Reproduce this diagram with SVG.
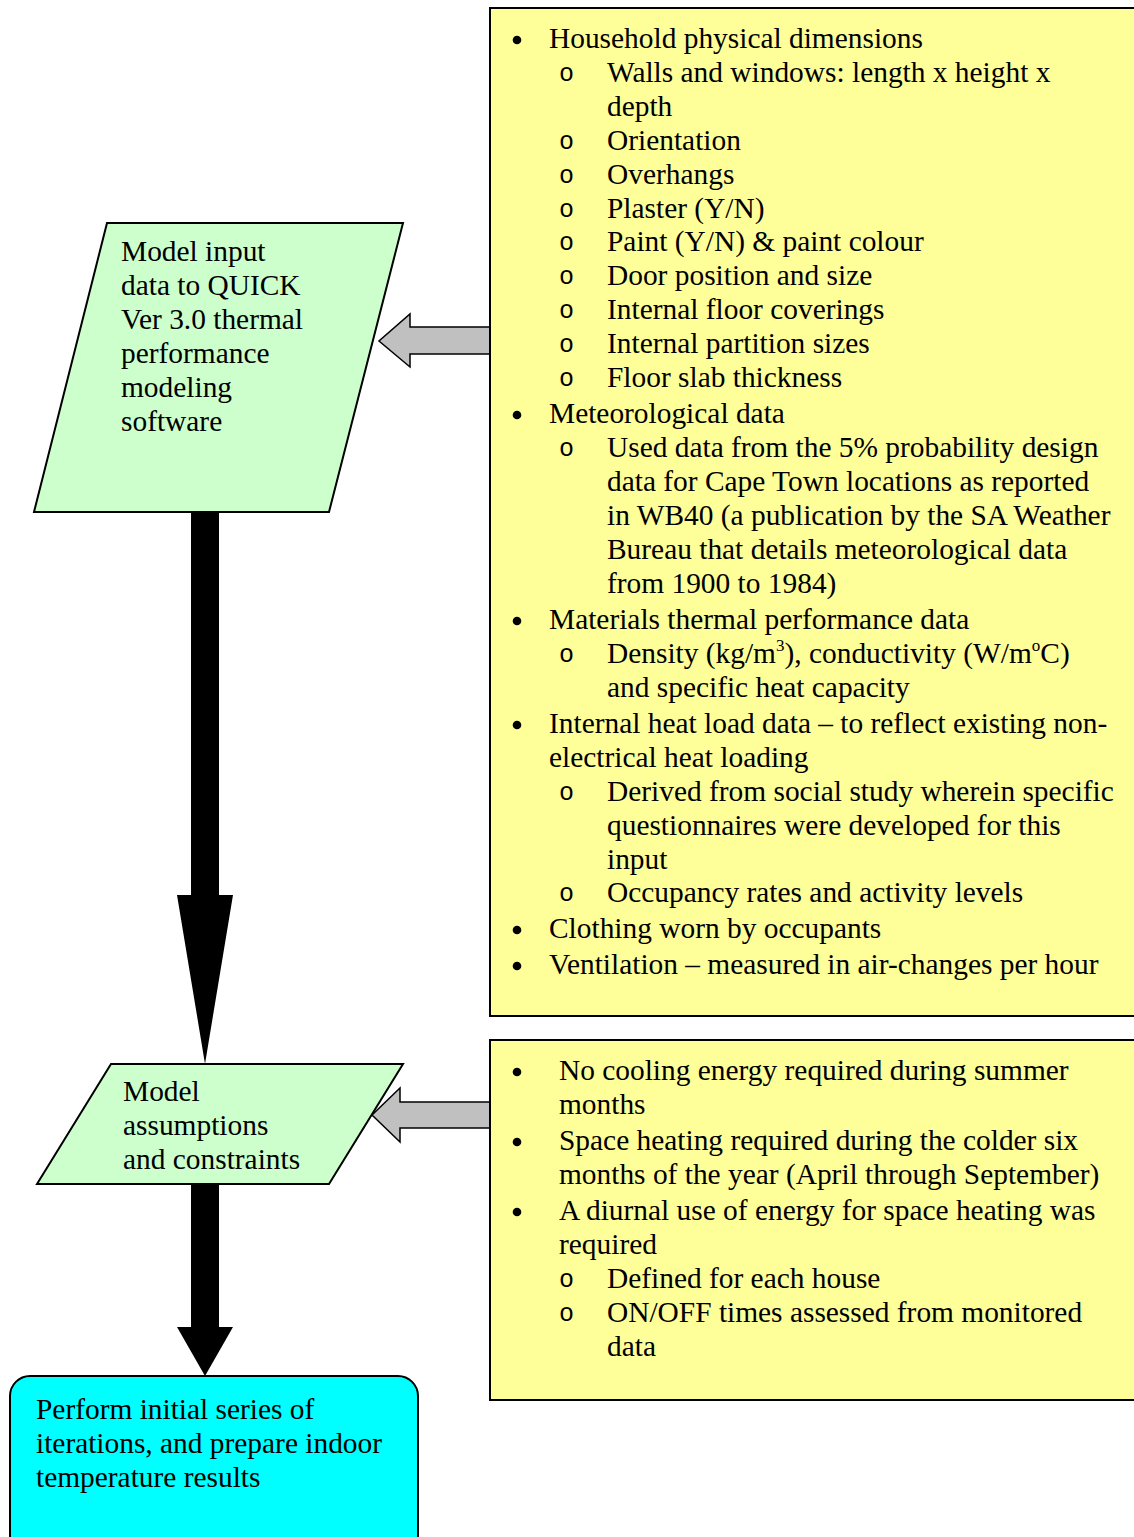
<svg xmlns="http://www.w3.org/2000/svg" width="1134" height="1537" viewBox="0 0 1134 1537">
<style>
text{font-family:"Liberation Serif","Times New Roman",serif;font-size:29.4px;fill:#000}
.o{font-family:"Liberation Mono","Courier New",monospace;font-size:25px}
.sup{font-size:17px}
.dot{fill:#000}
.box{fill:#FFFF99;stroke:#000;stroke-width:2}
.para{fill:#CCFFCC;stroke:#000;stroke-width:2}
.gray{fill:#C0C0C0;stroke:#000;stroke-width:1.5}
.blk{fill:#000}
</style>
<defs><circle id="bul" r="4.3" class="dot"/></defs>
<rect width="1134" height="1537" fill="#fff"/>
<g id="connectors">
<polygon class="gray" points="491,327 410,327 410,314 379,341 410,367 410,354 491,354"/>
<polygon class="gray" points="491,1102 400,1102 400,1088 372,1115 400,1142 400,1128 491,1128"/>
<polygon class="blk" points="191,512 219,512 219,895 233,895 205,1064 177,895 191,895"/>
<polygon class="blk" points="191,1184 219,1184 219,1327 233,1327 205,1376 177,1327 191,1327"/>
</g>
<g id="inputs-box">
<rect class="box" x="490" y="8" width="660" height="1008"/>
<use href="#bul" x="517" y="40"/><text x="549" y="48">Household physical dimensions</text>
<text class="o" x="559" y="81">o</text><text x="607" y="82">Walls and windows: length x height x</text>
<text x="607" y="116">depth</text>
<text class="o" x="559" y="149">o</text><text x="607" y="150">Orientation</text>
<text class="o" x="559" y="183">o</text><text x="607" y="184">Overhangs</text>
<text class="o" x="559" y="217">o</text><text x="607" y="218">Plaster (Y/N)</text>
<text class="o" x="559" y="250">o</text><text x="607" y="251">Paint (Y/N) &amp; paint colour</text>
<text class="o" x="559" y="284">o</text><text x="607" y="285">Door position and size</text>
<text class="o" x="559" y="318">o</text><text x="607" y="319">Internal floor coverings</text>
<text class="o" x="559" y="352">o</text><text x="607" y="353">Internal partition sizes</text>
<text class="o" x="559" y="386">o</text><text x="607" y="387">Floor slab thickness</text>
<use href="#bul" x="517" y="415"/><text x="549" y="423">Meteorological data</text>
<text class="o" x="559" y="456">o</text><text x="607" y="457">Used data from the 5% probability design</text>
<text x="607" y="491">data for Cape Town locations as reported</text>
<text x="607" y="525">in WB40 (a publication by the SA Weather</text>
<text x="607" y="559">Bureau that details meteorological data</text>
<text x="607" y="593">from 1900 to 1984)</text>
<use href="#bul" x="517" y="621"/><text x="549" y="629">Materials thermal performance data</text>
<text class="o" x="559" y="662">o</text><text x="607" y="663">Density (kg/m<tspan class="sup" dy="-12">3</tspan><tspan dy="12">), conductivity (W/m</tspan><tspan class="sup" dy="-12">o</tspan><tspan dy="12">C)</tspan></text>
<text x="607" y="697">and specific heat capacity</text>
<use href="#bul" x="517" y="725"/><text x="549" y="733">Internal heat load data – to reflect existing non-</text>
<text x="549" y="767">electrical heat loading</text>
<text class="o" x="559" y="800">o</text><text x="607" y="801">Derived from social study wherein specific</text>
<text x="607" y="835">questionnaires were developed for this</text>
<text x="607" y="869">input</text>
<text class="o" x="559" y="901">o</text><text x="607" y="902">Occupancy rates and activity levels</text>
<use href="#bul" x="517" y="930"/><text x="549" y="938">Clothing worn by occupants</text>
<use href="#bul" x="517" y="966"/><text x="549" y="974">Ventilation – measured in air-changes per hour</text>
</g>
<g id="assumptions-box">
<rect class="box" x="490" y="1040" width="660" height="360"/>
<use href="#bul" x="517" y="1072"/><text x="559" y="1080">No cooling energy required during summer</text>
<text x="559" y="1114">months</text>
<use href="#bul" x="517" y="1142"/><text x="559" y="1150">Space heating required during the colder six</text>
<text x="559" y="1184">months of the year (April through September)</text>
<use href="#bul" x="517" y="1212"/><text x="559" y="1220">A diurnal use of energy for space heating was</text>
<text x="559" y="1254">required</text>
<text class="o" x="559" y="1287">o</text><text x="607" y="1288">Defined for each house</text>
<text class="o" x="559" y="1321">o</text><text x="607" y="1322">ON/OFF times assessed from monitored</text>
<text x="607" y="1356">data</text>
</g>
<g id="model-input">
<polygon class="para" points="107,223 403,223 329,512 34,512"/>
<text x="121" y="261">Model input</text>
<text x="121" y="295">data to QUICK</text>
<text x="121" y="329">Ver 3.0 thermal</text>
<text x="121" y="363">performance</text>
<text x="121" y="397">modeling</text>
<text x="121" y="431">software</text>
</g>
<g id="model-assumptions">
<polygon class="para" points="111,1064 403,1064 329,1184 37,1184"/>
<text x="123" y="1101">Model</text>
<text x="123" y="1135">assumptions</text>
<text x="123" y="1169">and constraints</text>
</g>
<g id="perform">
<rect x="10" y="1376" width="408" height="190" rx="20" fill="#00FFFF" stroke="#000" stroke-width="2"/>
<text x="36" y="1419">Perform initial series of</text>
<text x="36" y="1453">iterations, and prepare indoor</text>
<text x="36" y="1487">temperature results</text>
</g>
</svg>
